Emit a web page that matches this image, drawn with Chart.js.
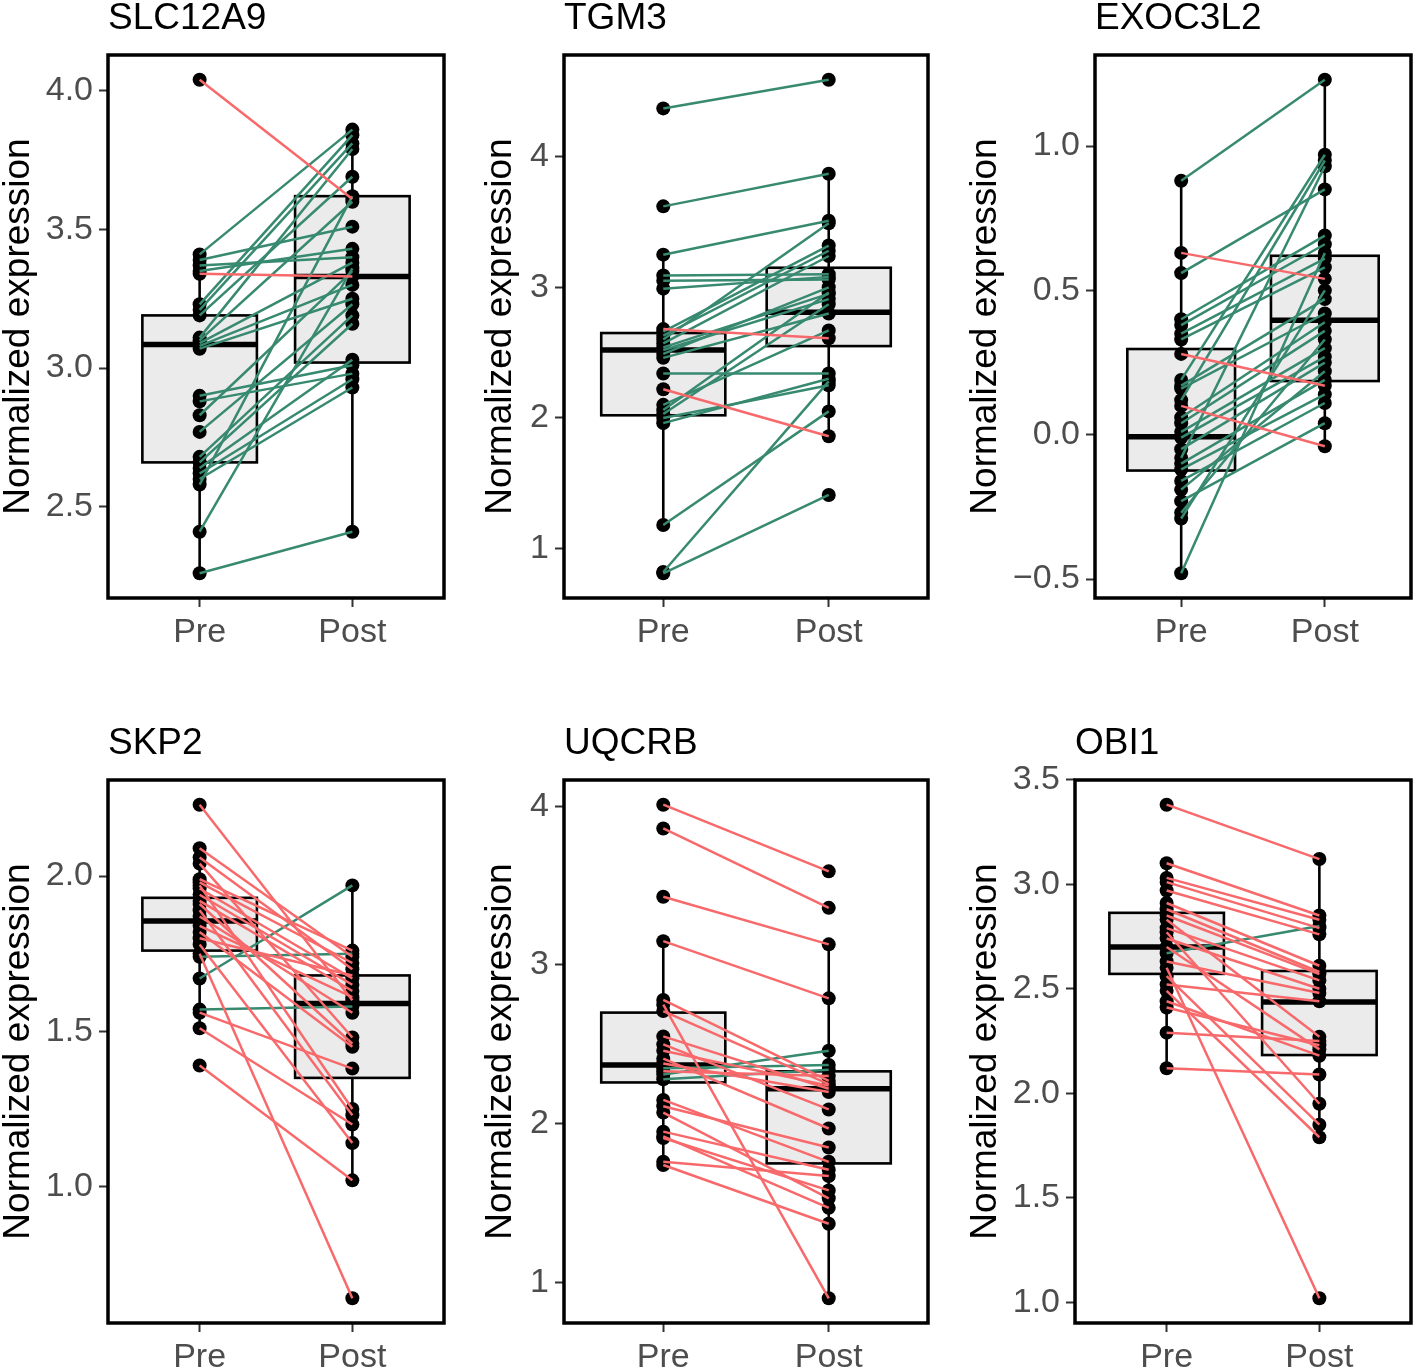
<!DOCTYPE html>
<html>
<head>
<meta charset="utf-8">
<script src="https://cdn.jsdelivr.net/npm/chart.js@4.4.0/dist/chart.umd.min.js"></script>
<style>
  body { margin: 0; background: #fff; width: 1418px; height: 1367px; position: relative; overflow: hidden; }
</style>
</head>
<body>
<script>
// ---- data ----
const genes = ["SLC12A9", "TGM3", "EXOC3L2", "SKP2", "UQCRB", "OBI1"];
const groups = ["Pre", "Post"];

// box stats: [lower whisker, q1, median, q3, upper whisker]
const slc12a9Pre = [4.04, 3.41, 3.39, 3.37, 3.35, 3.34, 3.23, 3.21, 3.19, 3.11, 3.10, 3.09, 3.08, 3.07, 2.90, 2.88, 2.83, 2.77, 2.68, 2.66, 2.64, 2.62, 2.60, 2.58, 2.41, 2.26];
const slc12a9Post = [3.61, 3.86, 3.51, 3.40, 3.43, 3.33, 3.84, 3.81, 3.69, 3.79, 3.60, 3.38, 3.30, 3.25, 3.01, 2.98, 3.35, 3.23, 3.19, 3.16, 3.03, 2.96, 2.93, 3.62, 3.36, 2.41];
const slc12a9PreBox = [2.26, 2.66, 3.085, 3.19, 3.41];
const slc12a9PostBox = [2.41, 3.02, 3.33, 3.62, 3.86];
const slc12a9Ticks = [2.5, 3.0, 3.5, 4.0];
const slc12a9TickLabels = ["2.5", "3.0", "3.5", "4.0"];

const tgm3Pre = [4.37, 3.62, 3.25, 3.09, 3.05, 2.99, 2.68, 2.66, 2.63, 2.60, 2.57, 2.54, 2.52, 2.49, 2.46, 2.34, 2.22, 2.10, 2.06, 2.03, 2.00, 1.96, 1.18, 0.82, 0.81];
const tgm3Post = [4.59, 3.87, 3.51, 3.10, 3.06, 3.08, 2.61, 3.32, 3.28, 3.49, 3.24, 2.95, 2.91, 3.00, 2.80, 2.34, 1.86, 2.67, 2.96, 2.87, 2.25, 2.30, 2.05, 2.28, 1.41];
const tgm3PreBox = [1.18, 2.02, 2.52, 2.65, 3.25];
const tgm3PostBox = [1.86, 2.55, 2.81, 3.15, 3.87];
const tgm3Ticks = [1, 2, 3, 4];
const tgm3TickLabels = ["1", "2", "3", "4"];

const exoc3l2Pre = [0.88, 0.63, 0.56, 0.40, 0.38, 0.35, 0.33, 0.28, 0.19, 0.17, 0.16, 0.12, 0.10, 0.06, 0.04, 0.01, -0.01, -0.05, -0.08, -0.10, -0.12, -0.16, -0.19, -0.23, -0.27, -0.29, -0.48];
const exoc3l2Post = [1.23, 0.54, 0.85, 0.69, 0.66, 0.61, 0.58, 0.17, 0.97, 0.47, 0.42, 0.95, -0.04, 0.39, 0.36, 0.30, 0.27, 0.25, 0.93, 0.19, 0.14, 0.11, 0.22, 0.04, 0.33, 0.50, 0.63];
const exoc3l2PreBox = [-0.48, -0.124, -0.007, 0.297, 0.88];
const exoc3l2PostBox = [-0.04, 0.186, 0.397, 0.62, 1.23];
const exoc3l2Ticks = [-0.5, 0.0, 0.5, 1.0];
const exoc3l2TickLabels = ["\u22120.5", "0.0", "0.5", "1.0"];

const skp2Pre = [2.23, 2.09, 2.06, 2.04, 1.99, 1.98, 1.97, 1.96, 1.94, 1.92, 1.91, 1.89, 1.87, 1.84, 1.82, 1.80, 1.78, 1.75, 1.74, 1.67, 1.57, 1.56, 1.51, 1.39];
const skp2Post = [1.60, 1.74, 1.70, 1.48, 1.76, 1.72, 1.25, 1.67, 1.65, 1.63, 1.46, 1.23, 1.56, 1.61, 1.45, 1.68, 1.14, 0.64, 1.75, 1.97, 1.58, 1.38, 1.20, 1.02];
const skp2PreBox = [1.51, 1.76, 1.855, 1.93, 2.09];
const skp2PostBox = [1.02, 1.35, 1.59, 1.68, 1.97];
const skp2Ticks = [1.0, 1.5, 2.0];
const skp2TickLabels = ["1.0", "1.5", "2.0"];

const uqcrbPre = [4.01, 3.86, 3.43, 3.15, 2.78, 2.75, 2.71, 2.55, 2.50, 2.46, 2.41, 2.38, 2.35, 2.33, 2.31, 2.28, 2.15, 2.11, 2.07, 1.95, 1.92, 1.91, 1.76, 1.74];
const uqcrbPost = [3.59, 3.36, 3.13, 2.79, 2.27, 0.90, 2.25, 2.22, 2.09, 2.24, 1.97, 2.20, 2.37, 2.30, 2.46, 2.34, 1.76, 1.85, 1.53, 1.71, 1.47, 1.58, 1.67, 1.37];
const uqcrbPreBox = [1.74, 2.26, 2.37, 2.70, 3.15];
const uqcrbPostBox = [0.90, 1.75, 2.22, 2.33, 3.13];
const uqcrbTicks = [1, 2, 3, 4];
const uqcrbTickLabels = ["1", "2", "3", "4"];

const obi1Pre = [3.38, 3.10, 3.03, 3.01, 2.97, 2.91, 2.88, 2.85, 2.83, 2.79, 2.77, 2.74, 2.70, 2.67, 2.63, 2.60, 2.56, 2.52, 2.49, 2.44, 2.41, 2.29, 2.12];
const obi1Post = [3.12, 2.85, 2.83, 2.79, 2.76, 2.61, 2.58, 2.57, 2.27, 2.54, 1.95, 2.50, 2.21, 2.80, 2.48, 1.02, 1.85, 2.44, 1.79, 2.18, 2.23, 2.25, 2.09];
const obi1PreBox = [2.12, 2.571, 2.70, 2.863, 3.10];
const obi1PostBox = [1.79, 2.183, 2.437, 2.585, 3.12];
const obi1Ticks = [1.0, 1.5, 2.0, 2.5, 3.0, 3.5];
const obi1TickLabels = ["1.0", "1.5", "2.0", "2.5", "3.0", "3.5"];

const series = [
  { pre: slc12a9Pre, post: slc12a9Post, preBox: slc12a9PreBox, postBox: slc12a9PostBox, ticks: slc12a9Ticks, labels: slc12a9TickLabels },
  { pre: tgm3Pre, post: tgm3Post, preBox: tgm3PreBox, postBox: tgm3PostBox, ticks: tgm3Ticks, labels: tgm3TickLabels },
  { pre: exoc3l2Pre, post: exoc3l2Post, preBox: exoc3l2PreBox, postBox: exoc3l2PostBox, ticks: exoc3l2Ticks, labels: exoc3l2TickLabels },
  { pre: skp2Pre, post: skp2Post, preBox: skp2PreBox, postBox: skp2PostBox, ticks: skp2Ticks, labels: skp2TickLabels },
  { pre: uqcrbPre, post: uqcrbPost, preBox: uqcrbPreBox, postBox: uqcrbPostBox, ticks: uqcrbTicks, labels: uqcrbTickLabels },
  { pre: obi1Pre, post: obi1Post, preBox: obi1PreBox, postBox: obi1PostBox, ticks: obi1Ticks, labels: obi1TickLabels },
];

// ---- layout (page pixels) ----
const panels = [
  { left: 0, top: 0, yw: 108, plotW: 339, padR: 4, h: 660, xh: 62 },
  { left: 482, top: 0, yw: 82, plotW: 367, padR: 4, h: 660, xh: 62 },
  { left: 967, top: 0, yw: 128, plotW: 320, padR: 3, h: 660, xh: 62 },
  { left: 0, top: 725, yw: 108, plotW: 339, padR: 4, h: 642, xh: 44 },
  { left: 482, top: 725, yw: 82, plotW: 367, padR: 4, h: 642, xh: 44 },
  { left: 967, top: 725, yw: 108, plotW: 340, padR: 3, h: 642, xh: 44 },
];

const UP = "#37896F";
const DOWN = "#F8696B";
const FONT = "'Liberation Sans', Arial, Helvetica, sans-serif";
Chart.defaults.font.family = FONT;

// boxes + whiskers under the data
const boxPlugin = {
  id: "boxes",
  beforeDatasetsDraw(chart, args, opts) {
    const { ctx, scales: { x, y } } = chart;
    ctx.save();
    opts.boxes.forEach((b, i) => {
      const cx = x.getPixelForValue(i + 1);
      const x0 = x.getPixelForValue(i + 1 - 0.375);
      const x1 = x.getPixelForValue(i + 1 + 0.375);
      const [lo, q1, med, q3, hi] = b.map((v) => y.getPixelForValue(v));
      ctx.strokeStyle = "#000";
      ctx.lineWidth = 2.6;
      ctx.beginPath();
      ctx.moveTo(cx, lo); ctx.lineTo(cx, q1);
      ctx.moveTo(cx, q3); ctx.lineTo(cx, hi);
      ctx.stroke();
      ctx.fillStyle = "#EBEBEB";
      ctx.fillRect(x0, q3, x1 - x0, q1 - q3);
      ctx.strokeRect(x0, q3, x1 - x0, q1 - q3);
      ctx.lineWidth = 5.5;
      ctx.beginPath();
      ctx.moveTo(x0, med); ctx.lineTo(x1, med);
      ctx.stroke();
    });
    ctx.restore();
  },
};

// panel border on top
const framePlugin = {
  id: "frame",
  afterDatasetsDraw(chart) {
    const { ctx, chartArea: a } = chart;
    ctx.save();
    ctx.strokeStyle = "#000";
    ctx.lineWidth = 3.5;
    ctx.strokeRect(a.left, a.top, a.right - a.left, a.bottom - a.top);
    ctx.restore();
  },
};

panels.forEach((p, i) => {
  const s = series[i];
  const w = p.yw + p.plotW + p.padR;
  const cv = document.createElement("canvas");
  cv.width = w;
  cv.height = p.h;
  cv.style.cssText = `position:absolute;left:${p.left}px;top:${p.top}px;width:${w}px;height:${p.h}px`;
  document.body.appendChild(cv);

  const all = s.pre.concat(s.post);
  const lo = Math.min(...all), hi = Math.max(...all);
  const pad = (hi - lo) * 0.05;

  const pointData = s.pre.map((v) => ({ x: 1, y: v })).concat(s.post.map((v) => ({ x: 2, y: v })));
  const pairSets = s.pre.map((v, k) => ({
    type: "line",
    data: [{ x: 1, y: v }, { x: 2, y: s.post[k] }],
    borderColor: s.post[k] >= v ? UP : DOWN,
    borderWidth: 2.5,
    pointRadius: 0,
    fill: false,
    order: 0,
  }));

  new Chart(cv.getContext("2d"), {
    type: "scatter",
    data: {
      datasets: [
        {
          data: pointData,
          pointRadius: 7,
          pointBackgroundColor: "#000",
          pointBorderWidth: 0,
          order: 1,
        },
        ...pairSets,
      ],
    },
    options: {
      responsive: false,
      animation: false,
      layout: { padding: { left: 0, right: p.padR, top: 0, bottom: 0 } },
      plugins: {
        legend: { display: false },
        tooltip: { enabled: false },
        title: {
          display: true,
          text: genes[i],
          align: "start",
          fullSize: false,
          color: "#000",
          font: { size: 37, weight: "normal", lineHeight: 1 },
          padding: { top: 0, bottom: 18 },
        },
        boxes: { boxes: [s.preBox, s.postBox] },
      },
      scales: {
        x: {
          type: "linear",
          min: 0.4,
          max: 2.6,
          afterFit: (sc) => { sc.height = p.xh; },
          afterBuildTicks: (sc) => { sc.ticks = [{ value: 1 }, { value: 2 }]; },
          ticks: {
            callback: (v) => groups[v - 1],
            color: "#4D4D4D",
            font: { size: 34 },
            padding: 5,
            maxRotation: 0,
          },
          grid: { display: true, drawOnChartArea: false, drawTicks: true, tickLength: 9, tickColor: "#333", tickWidth: 2 },
          border: { display: false },
        },
        y: {
          type: "linear",
          min: lo - pad,
          max: hi + pad,
          afterFit: (sc) => { sc.width = p.yw; },
          afterBuildTicks: (sc) => { sc.ticks = s.ticks.map((v) => ({ value: v })); },
          ticks: {
            callback: (v, k) => s.labels[k],
            color: "#4D4D4D",
            font: { size: 34 },
            padding: 6,
          },
          grid: { display: true, drawOnChartArea: false, drawTicks: true, tickLength: 9, tickColor: "#333", tickWidth: 2 },
          border: { display: false },
          title: {
            display: true,
            text: "Normalized expression",
            color: "#000",
            font: { size: 37, lineHeight: 1 },
            padding: 0,
          },
        },
      },
    },
    plugins: [boxPlugin, framePlugin],
  });
});
</script>
</body>
</html>
